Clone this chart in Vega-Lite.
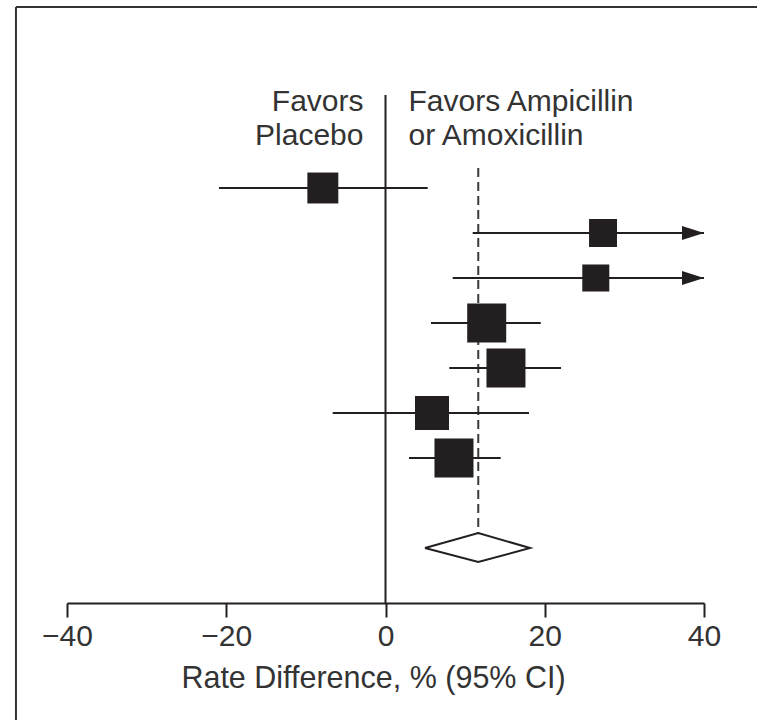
{
  "$schema": "https://vega.github.io/schema/vega-lite/v6.json",
  "width": 637,
  "height": 597,
  "autosize": {"type": "none"},
  "padding": {"left": 67, "top": 6, "right": 53, "bottom": 117},
  "background": "white",
  "view": {"stroke": null},
  "config": {
    "font": "Liberation Sans",
    "axis": {"grid": false}
  },
  "datasets": {
    "studies": [
      {"row": 1, "est": -7.87, "lo": -20.91, "hi": 5.3, "weight": 12.6, "truncated": false},
      {"row": 2, "est": 27.32, "lo": 10.95, "hi": 40, "weight": 10.3, "truncated": true},
      {"row": 3, "est": 26.41, "lo": 8.44, "hi": 40, "weight": 9.6, "truncated": true},
      {"row": 4, "est": 12.71, "lo": 5.71, "hi": 19.5, "weight": 20, "truncated": false},
      {"row": 5, "est": 15.13, "lo": 8.01, "hi": 22.04, "weight": 20, "truncated": false},
      {"row": 6, "est": 5.84, "lo": -6.63, "hi": 18.02, "weight": 15.2, "truncated": false},
      {"row": 7, "est": 8.6, "lo": 2.95, "hi": 14.47, "weight": 20, "truncated": false}
    ],
    "pooled": [
      {"order": 1, "x": 4.96, "y": 9},
      {"order": 2, "x": 11.65, "y": 8.667},
      {"order": 3, "x": 18.15, "y": 9},
      {"order": 4, "x": 11.65, "y": 9.311},
      {"order": 5, "x": 4.96, "y": 9}
    ],
    "labels": [
      {"side": "left", "y": -0.711, "text": "Favors"},
      {"side": "left", "y": 0.044, "text": "Placebo"},
      {"side": "right", "y": -0.711, "text": "Favors Ampicillin"},
      {"side": "right", "y": 0.044, "text": "or Amoxicillin"}
    ],
    "frame": [
      {"x": -46.41, "x2": -46.41, "y": -3.022, "y2": 12.82},
      {"x": -46.41, "x2": 46.66, "y": -3.022, "y2": -3.022}
    ],
    "nullLine": [
      {"x": 0, "y": -1.067, "y2": 10.222}
    ],
    "pooledLine": [
      {"x": 11.65, "y": 0.556, "y2": 8.667}
    ]
  },
  "encoding": {
    "x": {
      "type": "quantitative",
      "scale": {"domain": [-40, 40], "nice": false, "zero": false}
    },
    "y": {
      "type": "quantitative",
      "scale": {"domain": [-3.0444, 10.2222], "nice": false, "zero": false, "reverse": true},
      "axis": null
    }
  },
  "layer": [
    {
      "data": {"name": "frame"},
      "mark": {"type": "rule", "color": "#333333", "strokeWidth": 2, "clip": false},
      "encoding": {
        "x": {"field": "x", "type": "quantitative", "axis": {
          "values": [-40, -20, 0, 20, 40],
          "title": "Rate Difference, % (95% CI)",
          "domainColor": "#231f20",
          "domainWidth": 2,
          "tickColor": "#231f20",
          "tickWidth": 2,
          "tickSize": 14,
          "labelFontSize": 30,
          "labelColor": "#333333",
          "labelPadding": 4,
          "labelFlush": false,
          "titleFontSize": 30.5,
          "titleFontWeight": "normal",
          "titleColor": "#333333",
          "titlePadding": 12,
          "titleX": 306,
          "titleAlign": "center"
        }},
        "x2": {"field": "x2"},
        "y": {"field": "y", "type": "quantitative"},
        "y2": {"field": "y2"}
      }
    },
    {
      "data": {"name": "nullLine"},
      "mark": {"type": "rule", "color": "#231f20", "strokeWidth": 2},
      "encoding": {
        "x": {"field": "x", "type": "quantitative"},
        "y": {"field": "y", "type": "quantitative"},
        "y2": {"field": "y2"}
      }
    },
    {
      "data": {"name": "pooledLine"},
      "mark": {"type": "rule", "color": "#3a3a3a", "strokeWidth": 2, "strokeDash": [9, 5]},
      "encoding": {
        "x": {"field": "x", "type": "quantitative"},
        "y": {"field": "y", "type": "quantitative"},
        "y2": {"field": "y2"}
      }
    },
    {
      "data": {"name": "studies"},
      "mark": {"type": "rule", "color": "#231f20", "strokeWidth": 2},
      "encoding": {
        "x": {"field": "lo", "type": "quantitative"},
        "x2": {"field": "hi"},
        "y": {"field": "row", "type": "quantitative"}
      }
    },
    {
      "data": {"name": "studies"},
      "transform": [{"filter": "datum.truncated"}],
      "mark": {
        "type": "point",
        "shape": "M-1,-0.318L0,0L-1,0.318Z",
        "filled": true,
        "color": "#231f20",
        "opacity": 1,
        "size": 1936,
        "strokeWidth": 0
      },
      "encoding": {
        "x": {"field": "hi", "type": "quantitative"},
        "y": {"field": "row", "type": "quantitative"}
      }
    },
    {
      "data": {"name": "studies"},
      "mark": {"type": "square", "filled": true, "color": "#231f20", "opacity": 1},
      "encoding": {
        "x": {"field": "est", "type": "quantitative"},
        "y": {"field": "row", "type": "quantitative"},
        "size": {
          "field": "weight",
          "type": "quantitative",
          "scale": {"domain": [0, 20], "range": [0, 1521], "zero": true},
          "legend": null
        }
      }
    },
    {
      "data": {"name": "pooled"},
      "mark": {"type": "line", "color": "#231f20", "strokeWidth": 2, "strokeJoin": "miter"},
      "encoding": {
        "x": {"field": "x", "type": "quantitative"},
        "y": {"field": "y", "type": "quantitative"},
        "order": {"field": "order", "type": "quantitative"}
      }
    },
    {
      "data": {"name": "labels"},
      "transform": [{"filter": "datum.side === 'left'"}],
      "mark": {"type": "text", "align": "right", "baseline": "alphabetic", "dx": -22, "fontSize": 30, "color": "#333333"},
      "encoding": {
        "x": {"datum": 0, "type": "quantitative"},
        "y": {"field": "y", "type": "quantitative"},
        "text": {"field": "text"}
      }
    },
    {
      "data": {"name": "labels"},
      "transform": [{"filter": "datum.side === 'right'"}],
      "mark": {"type": "text", "align": "left", "baseline": "alphabetic", "dx": 23, "fontSize": 30, "color": "#333333"},
      "encoding": {
        "x": {"datum": 0, "type": "quantitative"},
        "y": {"field": "y", "type": "quantitative"},
        "text": {"field": "text"}
      }
    }
  ]
}
